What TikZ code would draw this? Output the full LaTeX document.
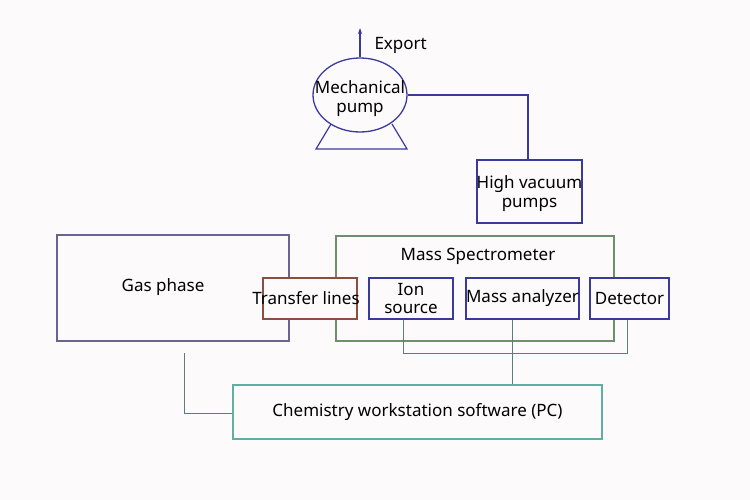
\documentclass[tikz,border=0pt]{standalone}
\usepackage{fontspec}
\setmainfont{Noto Sans}
\usetikzlibrary{shapes.geometric,arrows.meta}
\definecolor{bluebox}{HTML}{3A3A9E}
\definecolor{purplebox}{HTML}{6E6290}
\definecolor{brownbox}{HTML}{8A4E42}
\definecolor{greenbox}{HTML}{6E8E6E}
\definecolor{tealbox}{HTML}{5FAFA2}
\definecolor{wire}{HTML}{5E7C7A}
\definecolor{bgc}{HTML}{FDFAFC}
\begin{document}
\begin{tikzpicture}[x=1pt,y=-1pt,
  txt/.style={font=\fontsize{17}{19}\selectfont, text=black},
  boxb/.style={draw=bluebox, line width=1.3pt},
  wireline/.style={draw=wire, line width=1pt}]
\fill[bgc] (0,0) rectangle (750,500);
\useasboundingbox (0,0) rectangle (750,500);

% pump
\node[draw=bluebox, line width=1.3pt, ellipse, minimum width=94pt, minimum height=74pt, inner sep=0pt] (pump) at (360,95) {};
\node[txt, align=center, inner sep=0pt] (pumptxt) at (360,99) {Mechanical\\pump};
\draw[bluebox, line width=1.2pt] (331,124) -- (316,149) -- (407,149) -- (392,124);
\coordinate (exp) at (360,28);
\draw[bluebox, line width=1.2pt, -{Stealth[length=6pt,width=4pt]}] (pump.north) -- (exp);
\node[txt, anchor=west] (exporttxt) at (371,45) {Export};

% high vacuum pumps
\node[boxb, minimum width=105pt, minimum height=63pt] (hv) at (529.5,191.5) {};
\node[txt, align=center, inner sep=0pt] (hvtxt) at (529.5,194) {High vacuum\\pumps};
\draw[bluebox, line width=1.2pt] (pump.east) -- (528,95) -- (hv.north -| 528,0);

% gas phase
\node[draw=purplebox, line width=1.2pt, minimum width=232pt, minimum height=106pt] (gas) at (173,288) {};
\node[txt] (gastxt) at (163,287) {Gas phase};

% mass spectrometer
\node[draw=greenbox, line width=1.2pt, minimum width=278pt, minimum height=105pt] (ms) at (475,288.5) {};
\node[txt] (mstxt) at (478,256) {Mass Spectrometer};

% transfer lines
\node[draw=brownbox, fill=bgc, line width=1.2pt, minimum width=94pt, minimum height=41pt] (tl) at (310,298.5) {};
\node[txt] (tltxt) at (306,298) {Transfer lines};

% inner boxes
\node[boxb, fill=bgc, minimum width=84pt, minimum height=41pt, txt, align=center, inner sep=0pt, font=\fontsize{17}{17.5}\selectfont] (ion) at (411,298.5) {Ion\\source};
\node[boxb, fill=bgc, minimum width=113pt, minimum height=41pt, txt, inner sep=0pt] (ma) at (522.5,298.5) {Mass analyzer};
\node[boxb, fill=bgc, minimum width=79pt, minimum height=41pt, txt, inner sep=0pt] (det) at (629.5,298.5) {Detector};

% PC
\node[draw=tealbox, line width=1.2pt, minimum width=369pt, minimum height=54pt, txt] (pc) at (417.5,412) {Chemistry workstation software (PC)};

% wires
\draw[wireline] (ion.south -| 403,0) -- (403,353) -- (627,353) -- (det.south -| 627,0);
\draw[wireline] (ma.south -| 512,0) -- (pc.north -| 512,0);
\coordinate (gstart) at (184,353);
\draw[wireline] (gstart) -- (184,413) -- (pc.west |- 0,413);
\end{tikzpicture}
\end{document}
